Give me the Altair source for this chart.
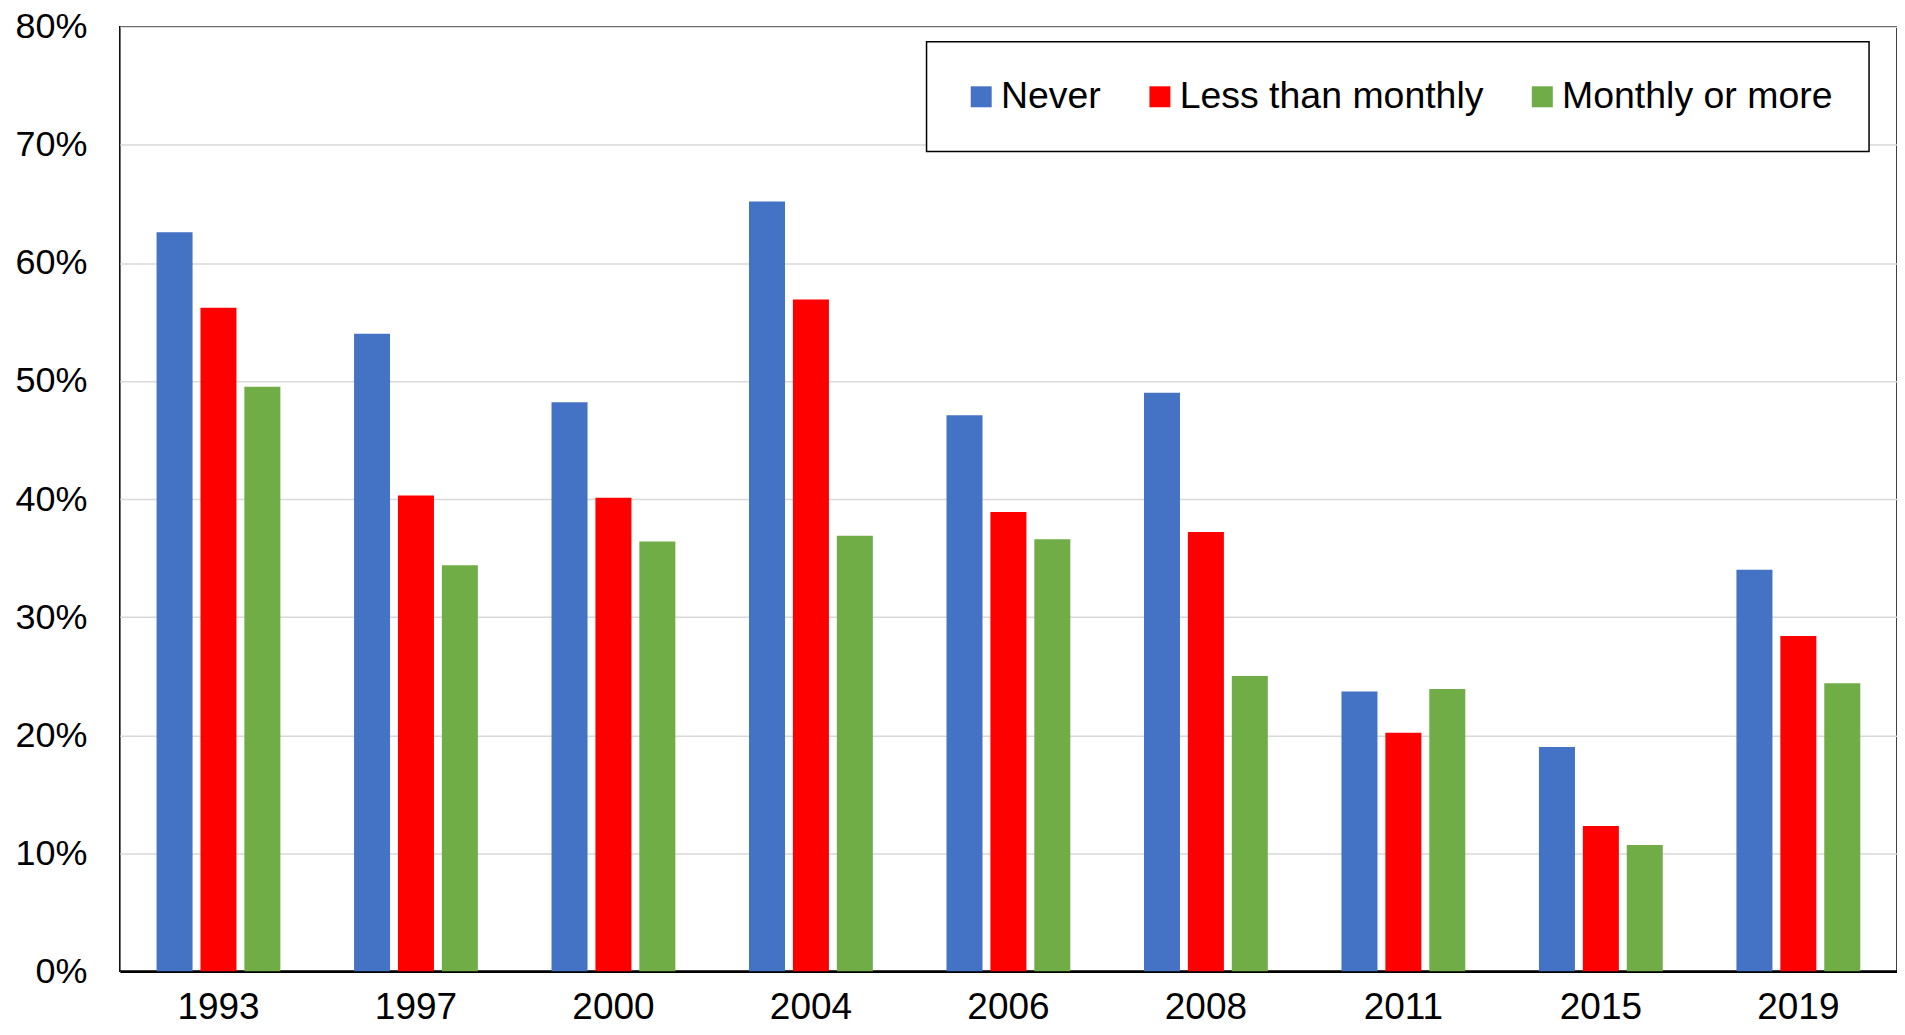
import altair as alt
import pandas as pd

years = ["1993", "1997", "2000", "2004", "2006", "2008", "2011", "2015", "2019"]
never = [62.6, 54.0, 48.2, 65.2, 47.1, 49.0, 23.7, 19.0, 34.0]
less_than_monthly = [56.2, 40.3, 40.1, 56.9, 38.9, 37.2, 20.2, 12.3, 28.4]
monthly_or_more = [49.5, 34.4, 36.4, 36.9, 36.6, 25.0, 23.9, 10.7, 24.4]
series = ["Never", "Less than monthly", "Monthly or more"]
colors = ["#4472C4", "#FF0000", "#70AD47"]
y_ticks = [0, 0.1, 0.2, 0.3, 0.4, 0.5, 0.6, 0.7, 0.8]

rows = []
for i, yr in enumerate(years):
    for s, vals in zip(series, [never, less_than_monthly, monthly_or_more]):
        rows.append({"year": yr, "series": s, "value": vals[i] / 100})
df = pd.DataFrame(rows)

FONT = "Liberation Sans"

chart = alt.Chart(df).mark_bar().encode(
    x=alt.X(
        "year:N", sort=years,
        scale=alt.Scale(paddingInner=0.373, paddingOuter=0.186),
        axis=alt.Axis(title=None, labelAngle=0, labelFontSize=37, labelFont=FONT,
                      labelColor="black", labelPadding=18, ticks=False,
                      domainColor="black", domainWidth=2.5, grid=False),
    ),
    xOffset=alt.XOffset("series:N", sort=series,
                        scale=alt.Scale(paddingInner=0.18, paddingOuter=0)),
    y=alt.Y(
        "value:Q",
        scale=alt.Scale(domain=[0, 0.8], nice=False, zero=True),
        axis=alt.Axis(title=None, format=".0%", values=y_ticks, grid=True,
                      gridColor="#d9d9d9", gridWidth=1.5, domain=False, ticks=False,
                      labelFontSize=36, labelFont=FONT, labelColor="black",
                      labelPadding=33),
    ),
    color=alt.Color(
        "series:N", sort=series,
        scale=alt.Scale(domain=series, range=colors),
        legend=alt.Legend(
            title=None, orient="none", legendX=808, legendY=15,
            direction="horizontal", symbolType="square", symbolSize=441,
            symbolStrokeWidth=0, symbolOpacity=1,
            labelFontSize=37.5, labelFont=FONT, labelColor="black",
            labelOffset=1, labelLimit=0, columnPadding=40, padding=36,
            strokeColor="black", fillColor="white",
        ),
    ),
).properties(
    width=1780, height=946,
    autosize=alt.AutoSizeParams(type="none"),
    padding={"left": 112, "top": 18, "right": 0, "bottom": 55},
).configure_view(
    stroke="black", strokeWidth=1.5
).configure_legend(
    strokeWidth=1.5
)

chart.save("out.html", embed_options={"renderer": "svg", "actions": False})
